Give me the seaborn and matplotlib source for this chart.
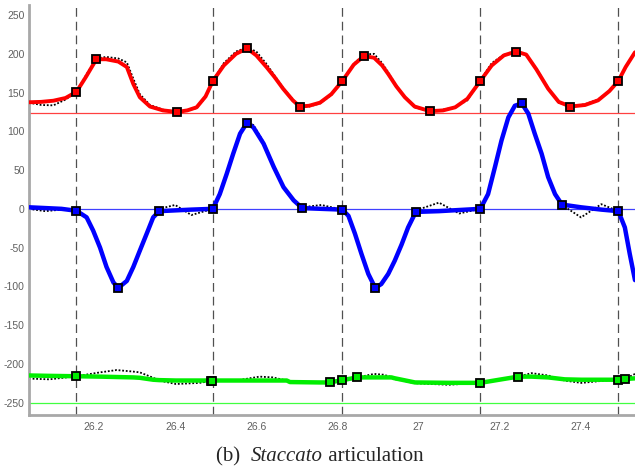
import matplotlib
matplotlib.use("Agg")
import matplotlib.pyplot as plt
import seaborn as sns
import numpy as np

# ---------------- data ----------------
onsets = [26.157, 26.493, 26.812, 27.152, 27.492]

red_x = [26.04, 26.07, 26.10, 26.13, 26.157, 26.18, 26.206, 26.23, 26.26, 26.281, 26.297,
         26.313, 26.338, 26.37, 26.405, 26.43, 26.453, 26.475, 26.493, 26.52, 26.55, 26.577,
         26.60, 26.625, 26.645, 26.666, 26.69, 26.707, 26.73, 26.757, 26.785, 26.812, 26.84,
         26.865, 26.89, 26.91, 26.925, 26.945, 26.966, 26.99, 27.028, 27.06, 27.09, 27.12,
         27.152, 27.18, 27.21, 27.24, 27.265, 27.29, 27.319, 27.345, 27.374, 27.41, 27.442,
         27.47, 27.492, 27.51, 27.533]
red_y = [137.5, 138, 139.5, 143, 151, 170, 193, 193, 190, 183, 161,
         144, 132, 127, 125, 127, 131, 145, 165, 185, 200, 207,
         198, 183, 170, 155, 140, 132, 133, 137, 148, 165, 186,
         197, 195, 185, 174, 158, 144, 132, 126, 127, 131, 142,
         165, 185, 198, 203, 199, 180, 155, 138, 132, 134, 140,
         152, 165, 183, 202]
red_dot_y = [137, 134, 133.5, 141, 151, 172, 194, 196, 194, 189, 168,
             148, 134, 128, 125, 127, 130, 144, 165, 188, 203, 208,
             203, 187, 172, 156, 141, 132, 132, 136, 147, 165, 187,
             199, 200, 188, 176, 159, 144, 131, 126, 128, 131, 140,
             166, 188, 199, 204, 199, 181, 156, 137, 132, 135, 141,
             152, 164, 183, 202]
red_mk_x = [26.157, 26.206, 26.405, 26.493, 26.577, 26.707, 26.812, 26.865, 27.028,
            27.152, 27.24, 27.374, 27.492]
red_mk_y = [151, 193, 125, 165, 207, 132, 165, 197, 126, 165, 203, 132, 165]

blue_x = [26.04, 26.08, 26.12, 26.157, 26.182, 26.198, 26.215, 26.231, 26.248, 26.26, 26.281,
          26.297, 26.313, 26.33, 26.346, 26.361, 26.40, 26.44, 26.493, 26.51, 26.527, 26.543,
          26.56, 26.577, 26.593, 26.618, 26.643, 26.667, 26.692, 26.713, 26.76, 26.812, 26.827,
          26.843, 26.859, 26.876, 26.893, 26.908, 26.925, 26.941, 26.958, 26.974, 26.993, 27.05,
          27.10, 27.152, 27.171, 27.188, 27.204, 27.221, 27.237, 27.254, 27.27, 27.286, 27.303,
          27.319, 27.336, 27.353, 27.40, 27.45, 27.492, 27.508, 27.52, 27.533]
blue_y = [2, 1, 0, -2.5, -11, -28, -50, -75, -95, -102, -93,
          -75, -54, -32, -11, -3, -2, -1, 0, 19, 45, 71,
          97, 111, 105, 84, 54, 28, 11, 1, 0, -1, -9,
          -32, -58, -84, -102, -97, -84, -67, -46, -24, -4, -3,
          -1.5, 0, 19, 54, 88, 118, 133, 136, 123, 97, 71,
          41, 19, 5.5, 2, -1, -3, -24, -58, -92]
blue_dot_y = [0, -3, -1, -2.5, -11, -28, -50, -75, -95, -102, -94,
              -77, -56, -33, -10, 0, 5, -8, 0, 20, 47, 73,
              99, 113, 108, 86, 56, 29, 11, 2, 5, -1, -9,
              -32, -58, -84, -102, -98, -86, -68, -47, -24, -2, 8,
              -6, 0, 19, 55, 89, 119, 134, 137, 124, 98, 72,
              42, 19, 5, -11, 6, -3, -24, -58, -92]
blue_mk_x = [26.157, 26.26, 26.361, 26.493, 26.577, 26.713, 26.812, 26.893, 26.993,
             27.152, 27.254, 27.353, 27.492]
blue_mk_y = [-2.5, -102, -3, 0, 111, 1, -1, -102, -4, 0, 136, 5, -3]

green_x = [26.04, 26.09, 26.157, 26.215, 26.256, 26.297, 26.313, 26.346, 26.361, 26.402, 26.46,
           26.493, 26.55, 26.608, 26.641, 26.675, 26.683, 26.757, 26.781, 26.812, 26.849, 26.89,
           26.913, 26.933, 26.94, 26.991, 27.073, 27.152, 27.204, 27.245, 27.278, 27.319, 27.36,
           27.401, 27.459, 27.492, 27.508, 27.533]
green_y = [-215, -215.5, -216, -216.5, -217, -217.5, -218, -220.5, -221, -221.5, -221.5,
           -221.5, -221.5, -221.5, -221.5, -221.5, -223.5, -224, -224, -221, -217.5, -217.5,
           -217.5, -217.5, -218.5, -224, -224.5, -224.5, -220, -216.5, -216.5, -217.5, -220,
           -220.5, -220.5, -220.5, -219.6, -218.7]
green_dot_y = [-219, -220, -216, -211, -208, -210, -211, -218, -221.6, -226, -224.6,
               -221.6, -221.6, -216.5, -217.5, -221.6, -223, -224, -224, -221, -217.5, -213,
               -214, -217, -219.6, -225, -227, -224.6, -219.6, -216.5, -212, -215, -221.6,
               -224.6, -221.6, -220.5, -219.6, -213]
green_mk_x = [26.157, 26.488, 26.492, 26.781, 26.812, 26.849, 27.152, 27.245, 27.492, 27.508]
green_mk_y = [-216, -221.6, -221.6, -224, -221, -217.5, -224.6, -216.5, -220.5, -219.6]

ref_levels = [124, 0, -250]

x_ticks = [26.2, 26.4, 26.6, 26.8, 27.0, 27.2, 27.4]
x_tick_labels = ["26.2", "26.4", "26.6", "26.8", "27", "27.2", "27.4"]
y_ticks = [-250, -200, -150, -100, -50, 0, 50, 100, 150, 200, 250]

# ---------------- style ----------------
sns.set_theme(style="white")
plt.rcParams['font.family'] = ['Liberation Sans', 'DejaVu Sans']

fig = plt.figure(figsize=(6.35, 4.68), dpi=100)
ax = fig.add_axes([29 / 635, 1 - 415 / 468, 1 - 29 / 635, (415 - 5) / 468])

colors = {"red": "#ff0000", "blue": "#0000ff", "green": "#00ee00"}
ref_colors = ["#ff4040", "#4040ff", "#40ff40"]

# reference horizontal lines
for lvl, c in zip(ref_levels, ref_colors):
    ax.axhline(lvl, color=c, lw=0.9, zorder=1)

# onset dashed lines
for o in onsets:
    ax.axvline(o, color="#505050", lw=0.9, ls=(0, (7, 4)), zorder=1)

series = [
    (red_x, red_y, red_dot_y, red_mk_x, red_mk_y, colors["red"], 2.8),
    (blue_x, blue_y, blue_dot_y, blue_mk_x, blue_mk_y, colors["blue"], 3.2),
    (green_x, green_y, green_dot_y, green_mk_x, green_mk_y, colors["green"], 3.2),
]
for xs, ys, yd, mx, my, c, lw in series:
    sns.lineplot(x=xs, y=yd, ax=ax, color="black", lw=1.3, ls=(0, (1, 1)),
                 sort=False, estimator=None, zorder=2)
    sns.lineplot(x=xs, y=ys, ax=ax, color=c, lw=lw, sort=False, estimator=None, zorder=3)
    ax.plot(mx, my, ls="none", marker="s", ms=5.2, mec="black", mew=1.3,
            mfc=c, zorder=4)

ax.set_xlim(26.04, 27.533)
ax.set_ylim(-266, 263)
ax.set_xticks(x_ticks)
ax.set_xticklabels(x_tick_labels)
ax.set_yticks(y_ticks)
ax.set_yticklabels([str(v) for v in y_ticks])
ax.tick_params(direction="in", length=5, width=1, colors="#707070",
               labelcolor="#606060", labelsize=7.5, pad=3)
ax.tick_params(axis="x", pad=5)

for s in ["top", "right"]:
    ax.spines[s].set_visible(False)
for s in ["left", "bottom"]:
    ax.spines[s].set_color("#a8a8a8")
    ax.spines[s].set_linewidth(2)

# caption
serif = ['Liberation Serif', 'DejaVu Serif']
fs = 15
t1 = fig.text(216 / 635, 1 - 461 / 468, "(b)  ", family=serif, fontsize=fs,
              va="baseline", ha="left")
t2 = ax.annotate("Staccato", xy=(1, 0), xycoords=t1, family=serif, fontsize=fs,
                 style="italic", va="bottom", ha="left", annotation_clip=False)
t3 = ax.annotate(" articulation", xy=(1, 0), xycoords=t2, family=serif, fontsize=fs,
                 va="bottom", ha="left", annotation_clip=False)

fig.savefig("out.png", dpi=100)
